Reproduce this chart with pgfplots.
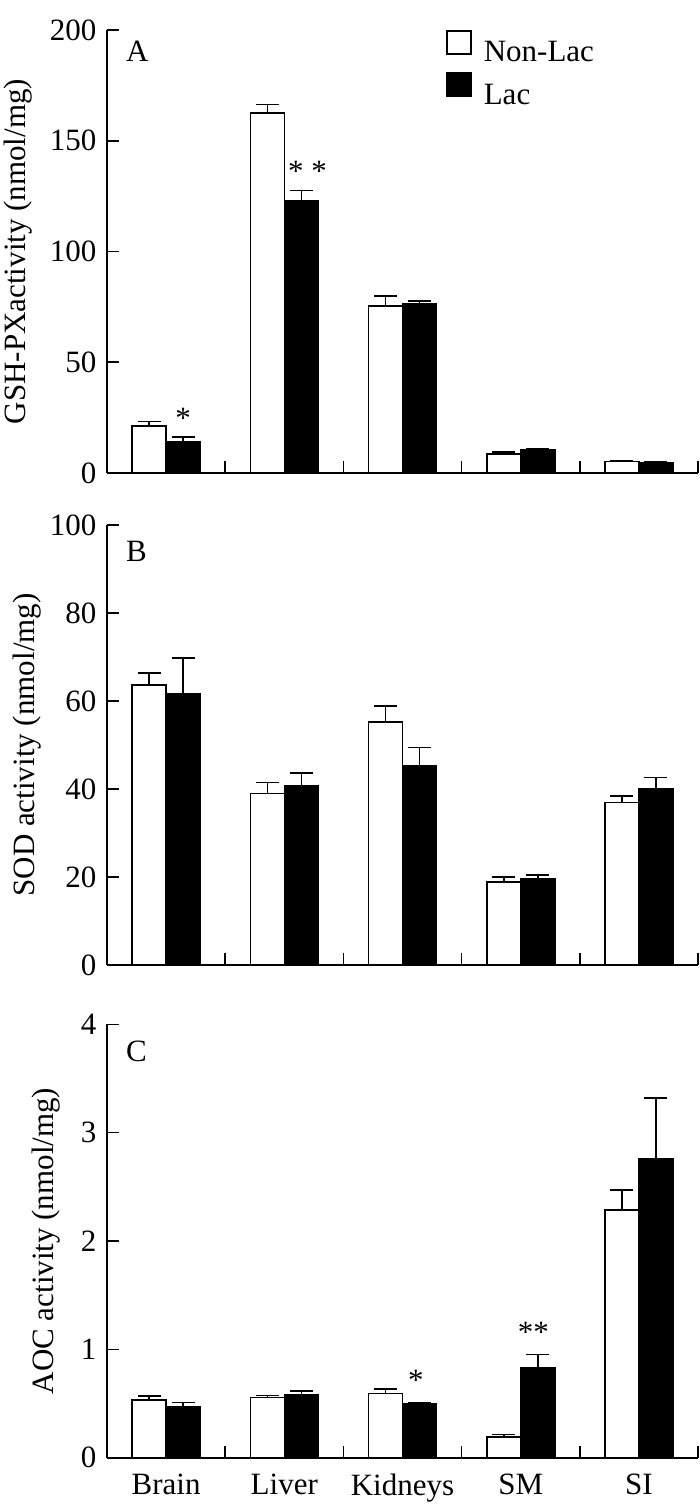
\documentclass[border=0pt]{standalone}
\usepackage{fontspec}
\setmainfont{Liberation Serif}
\usepackage{pgfplots}
\pgfplotsset{compat=1.18}
\tikzset{
 star/.style={anchor=base, inner sep=0pt, font=\fontsize{31}{37}\selectfont},
 plab/.style={anchor=base west, inner sep=0pt, font=\fontsize{31}{37}\selectfont},
}
\begin{document}
\fontsize{31}{37}\selectfont
\begin{tikzpicture}[x=1pt,y=1pt]
\useasboundingbox (0,0) rectangle (699,-1509);
\pgfplotsset{
 panel/.style={
   width=591pt, scale only axis, anchor=south west,
   xmin=-0.5, xmax=4.5, ymin=0,
   axis x line*=bottom, axis y line*=left,
   xtick pos=bottom, ytick pos=left,
   xticklabel pos=bottom, yticklabel pos=left,
   axis line style={-, line width=1.6pt},
   tick align=inside, major tick length=12pt,
   xtick={0.5,1.5,2.5,3.5,4.5}, xticklabels={},
   every tick/.style={black, line width=1.6pt},
   xtick style={yshift=12pt},
   ybar=0pt, bar width=34pt,
   /pgf/number format/assume math mode=true,
   tick label style={font=\fontsize{31}{37}\selectfont},
   label style={font=\fontsize{31}{37}\selectfont},
   clip=false,
 },
 nonlac/.style={draw=black, fill=white, line width=1.6pt,
   error bars/.cd, y dir=plus, y explicit,
   error bar style={line width=1.6pt, black},
   error mark options={rotate=90, line width=1.6pt, black, mark size=11.5pt}},
 lac/.style={draw=black, fill=black, line width=1.6pt,
   error bars/.cd, y dir=plus, y explicit,
   error bar style={line width=1.6pt, black},
   error mark options={rotate=90, line width=1.6pt, black, mark size=11.5pt}},
}
% Panel A
\begin{axis}[panel, at={(107pt,-473pt)}, height=443pt, ymax=200,
  ytick={0,50,100,150,200},
  ylabel={GSH-PXactivity (nmol/mg)},
  ylabel style={at={(axis description cs:-0.1506,0.5)}, anchor=center},
  legend style={draw=none, fill=none, at={(rel axis cs:0.5736,1.0)}, anchor=north west,
    inner sep=0pt, row sep=4pt, font=\fontsize{31}{37}\selectfont,
    nodes={inner sep=2pt}},
  legend cell align=left,
]
\addplot[legend image code/.code={\draw[draw=black,fill=white, line width=1.6pt] (0pt,0pt) rectangle (24pt,23pt); \path (34pt,0pt);}, nonlac] coordinates {
 (0,21.3) +- (0,1.9)
 (1,162.4) +- (0,4.0)
 (2,75.4) +- (0,4.5)
 (3,8.7) +- (0,0.9)
 (4,5.2) +- (0,0.2)
};
\addlegendentry{Non-Lac}
\addplot[legend image code/.code={\draw[draw=black,fill=black, line width=1.6pt] (0pt,0pt) rectangle (24pt,23pt); \path (34pt,0pt);}, lac] coordinates {
 (0,14.0) +- (0,2.3)
 (1,122.8) +- (0,4.8)
 (2,76.2) +- (0,1.5)
 (3,10.4) +- (0,0.4)
 (4,4.8) +- (0,0.4)
};
\addlegendentry{Lac}
\node[plab] at (rel axis cs:0.032,0.9284) {A};
\node[star] at (axis cs:0.143,19.9) {*};
\node[star] at (axis cs:1.196,131.8) {* *};
\end{axis}
% Panel B
\begin{axis}[panel, at={(107pt,-965pt)}, height=440pt, ymax=100,
  ytick={0,20,40,60,80,100},
  ylabel={SOD activity (nmol/mg)},
  ylabel style={at={(axis description cs:-0.1354,0.5)}, anchor=center},
]
\addplot[nonlac] coordinates {
 (0,63.6) +- (0,2.7)
 (1,39.0) +- (0,2.5)
 (2,55.2) +- (0,3.7)
 (3,18.9) +- (0,1.1)
 (4,36.9) +- (0,1.5)
};
\addplot[lac] coordinates {
 (0,61.6) +- (0,8.2)
 (1,40.7) +- (0,2.9)
 (2,45.3) +- (0,4.1)
 (3,19.5) +- (0,1.0)
 (4,40.0) +- (0,2.6)
};
\node[plab] at (rel axis cs:0.032,0.9166) {B};
\end{axis}
% Panel C
\begin{axis}[panel, at={(107pt,-1457.7pt)}, height=433.4pt, ymax=4,
  ytick={0,1,2,3,4},
  ylabel={AOC activity (nmol/mg)},
  ylabel style={at={(axis description cs:-0.103,0.5)}, anchor=center},
  extra x ticks={0,1,2,3,4},
  extra x tick labels={Brain,Liver,Kidneys,SM,SI},
  extra x tick style={major tick length=0pt, tick label style={yshift=-6pt}},
]
\addplot[nonlac] coordinates {
 (0,0.533) +- (0,0.037)
 (1,0.554) +- (0,0.021)
 (2,0.594) +- (0,0.043)
 (3,0.194) +- (0,0.022)
 (4,2.287) +- (0,0.183)
};
\addplot[lac] coordinates {
 (0,0.474) +- (0,0.034)
 (1,0.579) +- (0,0.037)
 (2,0.496) +- (0,0.012)
 (3,0.831) +- (0,0.120)
 (4,2.755) +- (0,0.565)
};
\node[plab] at (rel axis cs:0.032,0.9153) {C};
\node[star] at (axis cs:2.114,0.616) {*};
\node[star] at (axis cs:3.108,1.059) {**};
\end{axis}
\end{tikzpicture}
\end{document}
